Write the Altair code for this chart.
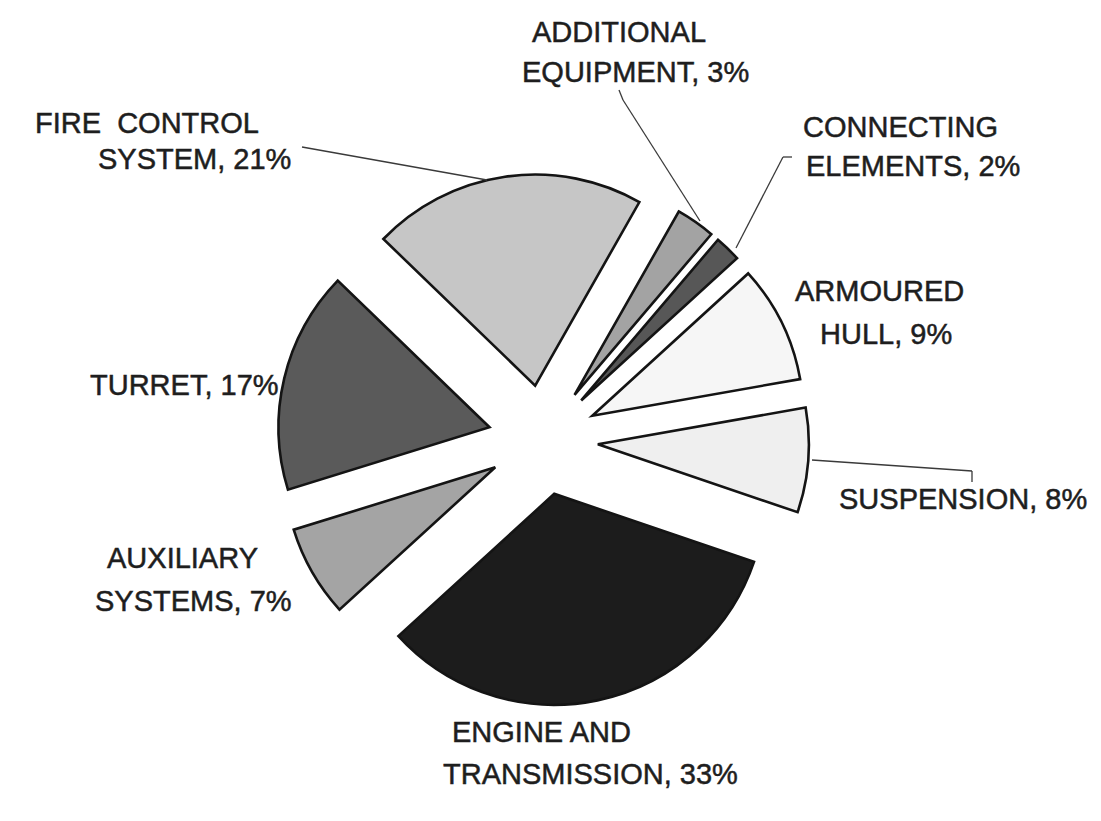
import math
import altair as alt
import pandas as pd

# ---- data ----
categories = ["FIRE CONTROL SYSTEM", "ADDITIONAL EQUIPMENT", "CONNECTING ELEMENTS",
              "ARMOURED HULL", "SUSPENSION", "ENGINE AND TRANSMISSION",
              "AUXILIARY SYSTEMS", "TURRET"]
shares = [21, 3, 2, 9, 8, 33, 7, 17]
fills = ["#c6c6c6", "#a3a3a3", "#575757", "#f6f6f6", "#efefef", "#1c1c1c", "#a4a4a4", "#5a5a5a"]

# label text split into lines (last line gets the percentage)
label_first = ["FIRE\u00a0 CONTROL", "ADDITIONAL", "CONNECTING", "ARMOURED", "", "ENGINE AND", "AUXILIARY", ""]
label_last = ["SYSTEM", "EQUIPMENT", "ELEMENTS", "HULL", "SUSPENSION", "TRANSMISSION", "SYSTEMS", "TURRET"]

# ---- layout (positions / styles) ----
W, H = 1085, 805
CX, CY = 543, 440
R = 211
EXPLODE = 55
START_DEG = -46

first_pos = [(35, 124), (532, 33), (803, 128), (795, 292), None, (452, 733), (107, 559), None]
last_pos = [(98, 160), (522, 73), (806, 167), (820, 335), (839, 500), (443, 775), (95, 602), (90, 386)]

leaders = [
    (302, 147, 487, 180),
    (619, 90, 623, 100), (623, 100, 700, 221),
    (792, 157, 783, 157), (783, 157, 736, 248),
    (812, 460, 972, 471), (972, 471, 972, 482),
]

pie_df = pd.DataFrame({
    "category": categories,
    "share": shares,
    "fill": fills,
    "order": list(range(len(categories))),
})

rows = []
for i, cat in enumerate(categories):
    if label_first[i]:
        rows.append({"text": label_first[i], "x": first_pos[i][0], "y": first_pos[i][1]})
    rows.append({"text": f"{label_last[i]}, {shares[i]}%", "x": last_pos[i][0], "y": last_pos[i][1]})
label_df = pd.DataFrame(rows)

leader_df = pd.DataFrame(leaders, columns=["x", "y", "x2", "y2"])

xs = alt.Scale(domain=[8, 8 + W], nice=False, zero=False)
ys = alt.Scale(domain=[8 + H, 8], nice=False, zero=False)
start_rad = START_DEG * math.pi / 180
theta_scale = alt.Scale(domain=[0, 100], range=[start_rad, start_rad + 2 * math.pi])

pie = (
    alt.Chart(pie_df)
    .transform_window(cum="sum(share)", sort=[alt.SortField("order")], frame=[None, 0])
    .transform_calculate(start="datum.cum - datum.share")
    .transform_calculate(mid=f"({START_DEG} + (datum.cum - datum.share / 2) * 3.6) * PI / 180")
    .transform_calculate(cx=f"{CX} + {EXPLODE} * sin(datum.mid)")
    .transform_calculate(cy=f"{CY} - {EXPLODE} * cos(datum.mid)")
    .mark_arc(radius=R, stroke="#141414", strokeWidth=2.6, strokeJoin="miter")
    .encode(
        theta=alt.Theta("start:Q", stack=None, scale=theta_scale),
        theta2="cum:Q",
        x=alt.X("cx:Q", scale=xs, axis=None),
        y=alt.Y("cy:Q", scale=ys, axis=None),
        fill=alt.Fill("fill:N", scale=None, legend=None),
        order=alt.Order("order:Q"),
    )
)

lines = (
    alt.Chart(leader_df)
    .mark_rule(color="#3a3a3a", strokeWidth=1.3)
    .encode(
        x=alt.X("x:Q", scale=xs, axis=None),
        y=alt.Y("y:Q", scale=ys, axis=None),
        x2="x2:Q",
        y2="y2:Q",
    )
)

labels = (
    alt.Chart(label_df)
    .mark_text(align="left", baseline="middle", font="Liberation Sans", fontSize=29,
               color="#1e1e1e", stroke="#1e1e1e", strokeWidth=0.5)
    .encode(
        x=alt.X("x:Q", scale=xs, axis=None),
        y=alt.Y("y:Q", scale=ys, axis=None),
        text="text:N",
    )
)

chart = (
    alt.layer(pie, lines, labels)
    .properties(width=W, height=H, padding=0, autosize=alt.AutoSizeParams(type="none"), background="white")
    .configure_view(stroke=None)
)

chart.save("out.html", embed_options={"renderer": "svg", "actions": False})
